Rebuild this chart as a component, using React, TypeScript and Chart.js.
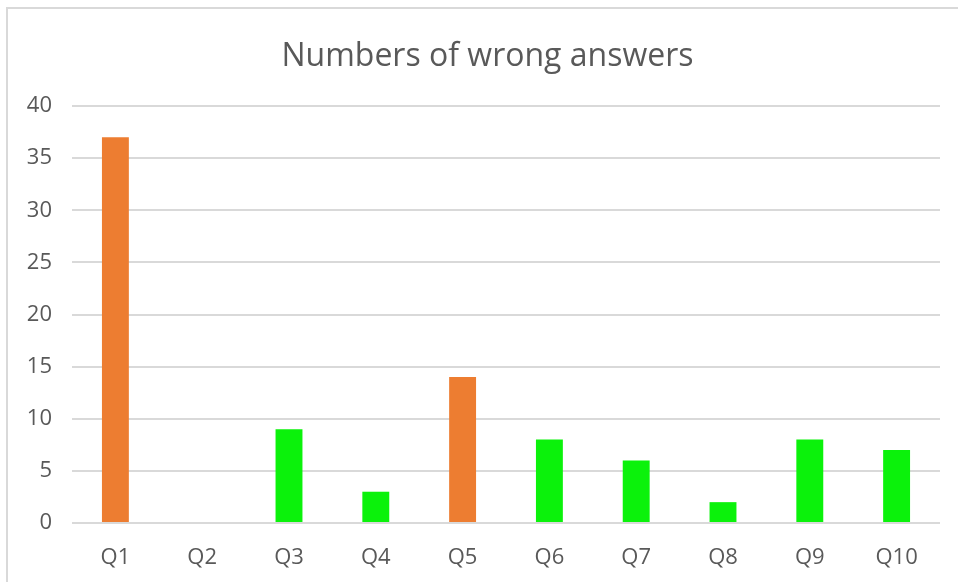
import React, { useEffect, useRef } from "react";
import { Chart, registerables } from "chart.js";

Chart.register(...registerables);

const categories = ["Q1", "Q2", "Q3", "Q4", "Q5", "Q6", "Q7", "Q8", "Q9", "Q10"];
const wrongAnswers = [37, 0, 9, 3, 14, 8, 6, 2, 8, 7];
const highlighted = ["Q1", "Q5"];
const yTicks = [0, 5, 10, 15, 20, 25, 30, 35, 40];
const titleText = "Numbers of wrong answers";

const ORANGE = "#ED7D31";
const GREEN = "#0BF20B";
const TEXT = "#595959";
const GRID = "#D9D9D9";

export default function App() {
  const ref = useRef<HTMLCanvasElement | null>(null);

  useEffect(() => {
    if (!ref.current) return;
    const chart = new Chart(ref.current, {
      type: "bar",
      data: {
        labels: categories,
        datasets: [
          {
            data: wrongAnswers,
            backgroundColor: categories.map((c) => (highlighted.includes(c) ? ORANGE : GREEN)),
            borderWidth: 0,
            barPercentage: 0.31,
            categoryPercentage: 1,
          },
        ],
      },
      options: {
        animation: false,
        responsive: false,
        maintainAspectRatio: false,
        layout: { padding: { left: 0, right: 18, top: 106, bottom: 0 } },
        plugins: {
          legend: { display: false },
          tooltip: { enabled: false },
          title: { display: false },
        },
        scales: {
          x: {
            grid: { display: false, drawTicks: false },
            border: { display: false },
            ticks: {
              color: TEXT,
              font: { family: "'Open Sans', sans-serif", size: 22 },
              padding: 22,
              maxRotation: 0,
            },
            afterFit: (scale: any) => {
              scale.height = 59;
            },
          },
          y: {
            min: 0,
            max: 40,
            afterBuildTicks: (scale: any) => {
              scale.ticks = yTicks.map((v) => ({ value: v }));
            },
            grid: { color: GRID, lineWidth: 2, drawTicks: false },
            border: { display: false },
            ticks: {
              color: TEXT,
              font: { family: "'Open Sans', sans-serif", size: 22 },
              padding: 20,
            },
            afterFit: (scale: any) => {
              scale.width = 72;
            },
          },
        },
      },
    });
    return () => chart.destroy();
  }, []);

  return (
    <div style={{ position: "absolute", left: 0, top: 0, width: 958, height: 582, background: "#fff", overflow: "hidden" }}>
      <div
        style={{
          position: "absolute",
          left: 6,
          top: 7,
          width: 960,
          height: 600,
          borderLeft: "2px solid #D9D9D9",
          borderTop: "2px solid #D9D9D9",
        }}
      />
      <canvas ref={ref} width={958} height={582} style={{ position: "absolute", left: 0, top: 0 }} />
      <div
        style={{
          position: "absolute",
          left: 0,
          top: 35,
          width: 975,
          height: 38,
          lineHeight: "38px",
          textAlign: "center",
          whiteSpace: "nowrap",
          fontFamily: "'Open Sans', sans-serif",
          fontSize: 32,
          color: TEXT,
        }}
      >
        {titleText}
      </div>
    </div>
  );
}
